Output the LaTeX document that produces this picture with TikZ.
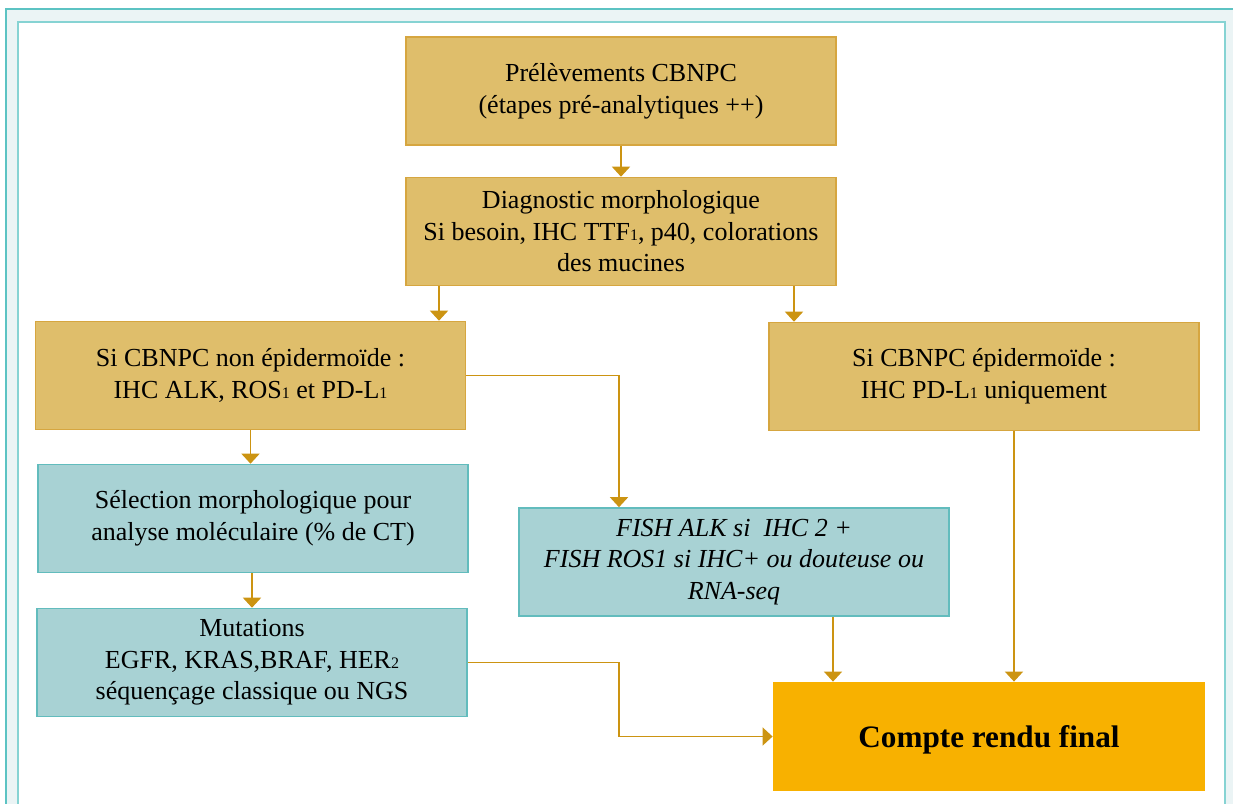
\documentclass[tikz,border=0pt]{standalone}
\usepackage{fontspec}
\setmainfont{Liberation Serif}
\usepackage{xcolor}
\usetikzlibrary{arrows.meta, positioning}

\definecolor{goldfill}{HTML}{DFBE6B}
\definecolor{golddraw}{HTML}{D6A640}
\definecolor{tealfill}{HTML}{A8D2D4}
\definecolor{tealdraw}{HTML}{62BCBD}
\definecolor{finalfill}{HTML}{F8B100}
\definecolor{arrowcol}{HTML}{CC9412}
\definecolor{framefill}{HTML}{EBF4F5}
\definecolor{frameline}{HTML}{5CC3C3}
\definecolor{innerline}{HTML}{86D3D3}

\newcommand{\lowidx}[1]{{\fontsize{8}{8}\selectfont #1}}

\tikzset{
  goldbox/.style={draw=golddraw, line width=0.8pt, fill=goldfill, align=center,
    minimum width=215pt, minimum height=54pt, font=\fontsize{13}{15.8}\selectfont},
  tealbox/.style={goldbox, draw=tealdraw, fill=tealfill},
  finalbox/.style={fill=finalfill, align=center, minimum width=216pt,
    minimum height=54.5pt, text height=11pt, text depth=0pt,
    font=\fontsize{15.6}{18}\selectfont\bfseries},
  arr/.style={draw=arrowcol, line width=0.75pt, -{Triangle[width=9pt,length=5pt]}}
}

\begin{document}
\begin{tikzpicture}[x=0.5pt, y=-0.5pt]
  \useasboundingbox (0,0) rectangle (1233,804);
  \clip (0,0) rectangle (1233,804);
  % Frame
  \fill[white] (0,0) rectangle (1233,804);
  \draw[frameline, fill=framefill, line width=0.6pt] (6,9) rectangle (1250,830);
  \draw[innerline, fill=white, line width=0.8pt] (18,22) rectangle (1225,840);

  % Boxes
  \node[goldbox] (prelev) at (621,91) {Prélèvements CBNPC\\(étapes pré-analytiques ++)};
  \node[goldbox] (diag) at (621,231.5) {Diagnostic morphologique\\
    Si besoin, IHC TTF\lowidx{1}, p40, colorations\\des mucines};
  \node[goldbox] (nonepi) at (250.5,375.5) {Si CBNPC non épidermoïde :\\
    IHC ALK, ROS\lowidx{1} et PD-L\lowidx{1}};
  \node[goldbox] (epi) at (984,376.5) {Si CBNPC épidermoïde :\\IHC PD-L\lowidx{1} uniquement};
  \node[tealbox] (select) at (253,518.5) {Sélection morphologique pour\\
    analyse moléculaire (\% de CT)};
  \node[tealbox, font=\fontsize{13}{15.8}\selectfont\itshape] (fish) at (734,562)
    {FISH ALK si\ \ IHC 2 +\\FISH ROS1 si IHC+ ou douteuse ou\\RNA-seq};
  \node[tealbox] (mutat) at (252,662.5) {Mutations\\EGFR, KRAS,BRAF, HER\lowidx{2}\\
    séquençage classique ou NGS};
  \node[finalbox] (final) at (989,736.5) {Compte rendu final};

  % Arrows
  \draw[arr] (prelev.south) -- (diag.north);
  \draw[arr] ([xshift=-91pt]diag.south) -- ([xshift=-91pt]diag.south |- nonepi.north);
  \draw[arr] ([xshift=86.5pt]diag.south) -- ([xshift=86.5pt]diag.south |- epi.north);
  \draw[arr] (nonepi.south) -- (nonepi.south |- select.north);
  \draw[arr] (nonepi.east) -| ([xshift=-57.5pt]fish.north);
  \draw[arr] (select.south) -- (select.south -| mutat.north) -- (mutat.north);
  \draw[arr] ([xshift=49.5pt]fish.south) -- ([xshift=49.5pt]fish.south |- final.north);
  \draw[arr] ([xshift=15pt]epi.south) -- ([xshift=15pt]epi.south |- final.north);
  \draw[arr] (mutat.east) -- ++(151,0) |- (final.west);
\end{tikzpicture}
\end{document}
